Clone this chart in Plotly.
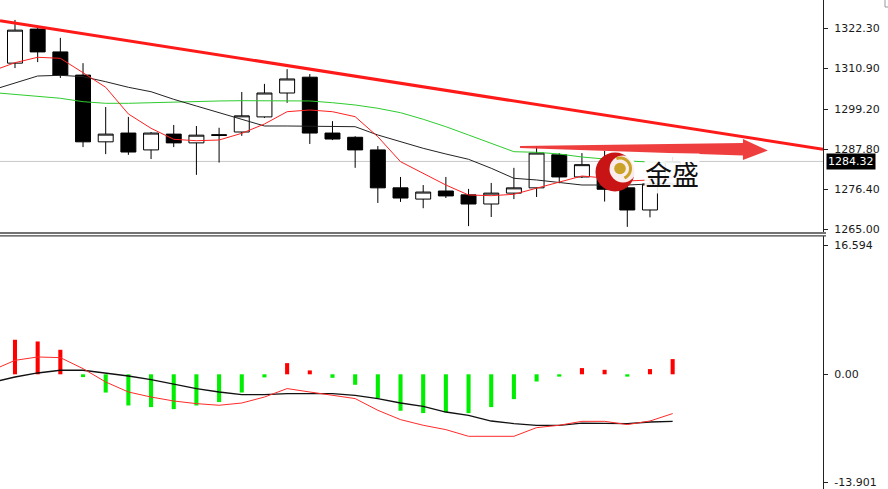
import math
import plotly.graph_objects as go

# ---------------- data ----------------
idx = list(range(30))
opens = [1312.3, 1322.0, 1315.5, 1308.9, 1289.9, 1292.4, 1287.6, 1292.1, 1289.6, 1291.7,
         1292.7, 1297.0, 1303.8, 1308.3, 1292.4, 1291.2, 1287.6, 1276.8, 1273.6, 1275.9,
         1274.8, 1272.2, 1275.3, 1276.8, 1286.2, 1279.9, 1282.5, 1276.8, 1270.5, 1277.9]
highs = [1324.6, 1322.9, 1319.5, 1312.3, 1299.8, 1297.0, 1292.7, 1294.7, 1294.4, 1293.9,
         1304.1, 1306.4, 1310.6, 1309.2, 1295.8, 1291.5, 1288.7, 1279.9, 1277.6, 1279.9,
         1276.5, 1278.2, 1282.5, 1288.7, 1286.7, 1286.7, 1287.3, 1277.6, 1280.5, 1285.6]
lows = [1310.9, 1312.6, 1308.1, 1288.4, 1286.4, 1286.2, 1285.0, 1288.4, 1280.5, 1284.0,
        1291.6, 1296.7, 1301.0, 1289.3, 1290.4, 1282.5, 1272.5, 1272.8, 1271.0, 1273.9,
        1265.9, 1268.5, 1273.6, 1274.2, 1278.1, 1279.6, 1272.9, 1265.7, 1268.4, 1277.0]
closes = [1321.7, 1315.5, 1308.9, 1289.9, 1292.1, 1287.0, 1292.4, 1289.6, 1291.8, 1291.9,
          1297.3, 1303.8, 1307.8, 1292.4, 1290.7, 1287.6, 1276.8, 1273.9, 1275.6, 1274.5,
          1272.2, 1275.3, 1276.8, 1286.7, 1279.9, 1283.4, 1276.4, 1270.5, 1277.9, 1284.32]

# moving averages (index -1 .. 29)
ma_idx = list(range(-1, 30))
ma_fast = [1310.07, 1312.43, 1313.97, 1313.68, 1309.58, 1305.43, 1297.83, 1293.75, 1290.62, 1290.22,
           1290.42, 1292.33, 1294.98, 1298.48, 1298.96, 1298.48, 1297.06, 1291.36, 1284.25, 1280.94,
           1277.61, 1274.77, 1274.57, 1274.96, 1276.67, 1278.55, 1280.17, 1279.60, 1278.75, 1279.04,
           1279.60]
ma_mid = [1304.66, 1306.57, 1308.64, 1308.84, 1308.45, 1307.02, 1305.43, 1304.17, 1302.01, 1300.10,
          1298.20, 1296.12, 1294.41, 1294.41, 1294.41, 1294.41, 1294.21, 1291.85, 1289.94, 1288.06,
          1286.44, 1284.93, 1282.37, 1279.52, 1279.04, 1278.27, 1277.61, 1277.61, 1277.61, 1277.90,
          1278.18]
ma_slow = [1303.95, 1303.43, 1302.95, 1302.30, 1301.33, 1300.87, 1300.87, 1301.04, 1301.33, 1301.53,
           1301.53, 1301.61, 1301.61, 1301.61, 1301.53, 1301.04, 1300.39, 1299.45, 1298.20, 1296.32,
           1294.21, 1291.85, 1289.48, 1287.09, 1286.92, 1286.44, 1285.58, 1285.01, 1284.45, 1284.16,
           1283.88]

# MACD panel
hist = [4.45, 4.23, 3.16, -0.36, -2.35, -4.02, -4.23, -4.49, -4.02, -3.58,
        -2.35, -0.40, 1.44, 0.50, -0.45, -1.35, -3.07, -4.70, -5.00, -4.90,
        -5.00, -4.23, -3.20, -0.93, -0.30, 0.80, 0.58, -0.30, 0.67, 1.96]
macd_red = [0.52, 1.80, 2.23, 2.15, 0.73, -0.99, -2.28, -2.93, -3.44, -3.78,
            -3.99, -3.70, -2.93, -1.84, -2.28, -2.71, -3.13, -4.64, -5.84, -6.57,
            -7.13, -7.99, -7.99, -7.99, -6.87, -6.57, -6.06, -6.06, -6.48, -6.02,
            -5.06]
macd_black = [-1.03, -0.35, 0.17, 0.52, 0.52, 0.17, -0.22, -0.68, -1.29, -1.84,
              -2.28, -2.62, -2.62, -2.49, -2.49, -2.49, -2.71, -3.13, -3.70, -4.12,
              -4.86, -5.28, -6.02, -6.35, -6.57, -6.57, -6.28, -6.28, -6.35, -6.15,
              -6.06]

price_ticks = [1265.00, 1276.40, 1287.80, 1299.20, 1310.90, 1322.30]
macd_ticks = [16.594, 0.00, -13.901]
macd_tick_text = ["16.594", "0.00", "-13.901"]
last_price = 1284.32

# trend line (index, price) and arrow
trend = [(-0.661, 1324.39), (35.63, 1287.78)]
arrow_pts = [(22.27, 1288.72), (32.10, 1289.57), (32.10, 1290.71), (33.20, 1287.43),
             (32.10, 1284.73), (32.10, 1286.01), (22.27, 1288.15)]

W, H = 888, 489
FONT = "DejaVu Sans"

def px(x):
    return x / W

def py(y):
    return 1 - y / H

fig = go.Figure()

fig.add_trace(go.Candlestick(
    x=idx, open=opens, high=highs, low=lows, close=closes,
    increasing=dict(line=dict(color="black", width=1), fillcolor="white"),
    decreasing=dict(line=dict(color="black", width=1), fillcolor="black"),
    whiskerwidth=0, xaxis="x", yaxis="y", showlegend=False, hoverinfo="skip"))

fig.add_trace(go.Scatter(x=ma_idx, y=ma_slow, mode="lines", line=dict(color="#2ecc2e", width=1),
                         xaxis="x", yaxis="y", showlegend=False, hoverinfo="skip"))
fig.add_trace(go.Scatter(x=ma_idx, y=ma_mid, mode="lines", line=dict(color="#222222", width=1),
                         xaxis="x", yaxis="y", showlegend=False, hoverinfo="skip"))
fig.add_trace(go.Scatter(x=ma_idx, y=ma_fast, mode="lines", line=dict(color="#ff2020", width=1),
                         xaxis="x", yaxis="y", showlegend=False, hoverinfo="skip"))

# MACD
bar_colors = ["#ff0000" if v >= 0 else "#00ee00" for v in hist]
fig.add_trace(go.Bar(x=idx, y=hist, marker=dict(color=bar_colors, line=dict(width=0)),
                     width=0.18, xaxis="x2", yaxis="y2", showlegend=False, hoverinfo="skip"))
fig.add_trace(go.Scatter(x=ma_idx, y=macd_black, mode="lines", line=dict(color="#111111", width=1.3),
                         xaxis="x2", yaxis="y2", showlegend=False, hoverinfo="skip"))
fig.add_trace(go.Scatter(x=ma_idx, y=macd_red, mode="lines", line=dict(color="#ff2a2a", width=1),
                         xaxis="x2", yaxis="y2", showlegend=False, hoverinfo="skip"))

xr = [-0.661, 35.63]
xdom = [0, 823 / W]
top_dom = [(H - 232) / H, 1.0]
bot_dom = [0.0, (H - 236) / H]

axis_common = dict(showgrid=False, zeroline=False, fixedrange=True)
fig.update_layout(
    width=W, height=H,
    margin=dict(l=0, r=0, t=0, b=0),
    paper_bgcolor="white", plot_bgcolor="white",
    boxgap=0.34, boxgroupgap=0,
    xaxis=dict(domain=xdom, range=xr, visible=False, rangeslider=dict(visible=False), **axis_common),
    xaxis2=dict(domain=xdom, range=xr, visible=False, anchor="y2", **axis_common),
    yaxis=dict(domain=top_dom, range=[1264.23, 1330.28], side="right", anchor="x",
               tickvals=price_ticks, ticktext=[f"{v:.2f}" for v in price_ticks],
               showline=True, linecolor="#222222", linewidth=1,
               ticks="outside", ticklen=4, tickcolor="#222222", automargin=False,
               ticklabeloverflow="allow", ticklabelstandoff=4,
               tickfont=dict(family=FONT, size=11, color="#1a1a1a"), **axis_common),
    yaxis2=dict(domain=bot_dom, range=[-14.78, 17.82], side="right", anchor="x2",
                tickvals=macd_ticks, ticktext=macd_tick_text,
                showline=True, linecolor="#222222", linewidth=1,
                ticks="outside", ticklen=4, tickcolor="#222222", automargin=False,
                ticklabeloverflow="allow", ticklabelstandoff=4,
                tickfont=dict(family=FONT, size=11, color="#1a1a1a"), **axis_common),
    font=dict(family=FONT),
)

shapes = []
# current price line
shapes.append(dict(type="line", xref="paper", yref="y", x0=0, x1=823 / W, y0=last_price, y1=last_price,
                   line=dict(color="#c8c8c8", width=1), layer="below"))
# trend line
shapes.append(dict(type="line", xref="x", yref="y", x0=trend[0][0], y0=trend[0][1],
                   x1=trend[1][0], y1=trend[1][1], line=dict(color="#ff1a1a", width=3)))
# arrow polygon
path = "M " + " L ".join(f"{a},{b}" for a, b in arrow_pts) + " Z"
shapes.append(dict(type="path", xref="x", yref="y", path=path,
                   fillcolor="rgba(238,52,52,0.95)", line=dict(width=0)))
# panel separator double line
for yy, wdt in [(233, 1.5), (235.8, 1.2)]:
    shapes.append(dict(type="line", xref="paper", yref="paper", x0=0, x1=826 / W,
                       y0=py(yy), y1=py(yy), line=dict(color="#444444", width=wdt)))
# top right window corner
shapes.append(dict(type="line", xref="paper", yref="paper", x0=px(885), x1=px(885), y0=py(0), y1=py(7),
                   line=dict(color="#999999", width=1)))
shapes.append(dict(type="line", xref="paper", yref="paper", x0=px(885), x1=px(888), y0=py(7), y1=py(7),
                   line=dict(color="#999999", width=1)))

# logo: red crescent + gold ball + gold arc
def circ(cx, cy, r, color):
    return dict(type="circle", xref="paper", yref="paper",
                x0=px(cx - r), x1=px(cx + r), y0=py(cy + r), y1=py(cy - r),
                fillcolor=color, line=dict(width=0))

shapes.append(circ(615, 172, 19.5, "#c81414"))
shapes.append(circ(623, 169, 13.5, "rgba(255,255,255,0.92)"))
shapes.append(circ(620, 168.5, 5.8, "#c9a227"))
arc = []
for k in range(0, 26):
    ang = math.radians(110 - k * 7)
    arc.append((620 + 10.5 * math.cos(ang), 168.5 - 10.5 * math.sin(ang)))
arc_path = "M " + " L ".join(f"{px(a):.5f},{py(b):.5f}" for a, b in arc)
shapes.append(dict(type="path", xref="paper", yref="paper", path=arc_path,
                   line=dict(color="#c9a227", width=3)))

fig.update_layout(shapes=shapes)

annotations = [
    dict(xref="paper", yref="paper", x=px(672), y=py(173), text="金盛", showarrow=False,
         font=dict(family="Noto Sans CJK SC", size=27, color="#111111"),
         bgcolor="rgba(255,255,255,0.9)", borderpad=0, xanchor="center", yanchor="middle"),
    dict(xref="paper", yref="y", x=826 / W, y=last_price, text=f"{last_price:.2f}", showarrow=False,
         font=dict(family=FONT, size=11, color="white"), bgcolor="black", borderpad=1,
         xanchor="left", yanchor="middle"),
]
fig.update_layout(annotations=annotations)

fig.write_html("out.html", config={"displayModeBar": False},
               post_script="document.body.style.margin='0';document.body.style.padding='0';")
